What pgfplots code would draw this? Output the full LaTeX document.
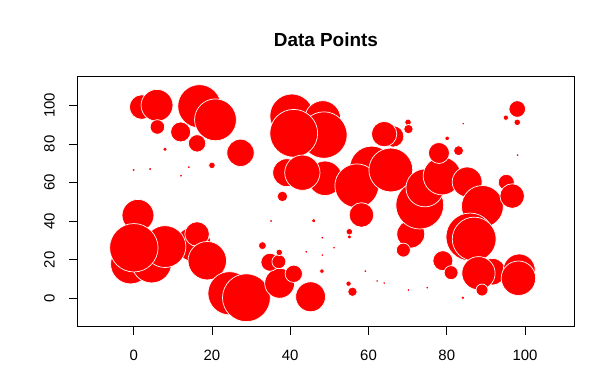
\documentclass[border=0pt]{standalone}
\usepackage{fontspec}
\setmainfont{Liberation Sans}
\usepackage{pgfplots}
\pgfplotsset{compat=1.18}
\usepackage{pgfplotstable}
\pgfplotstableread{
x y r
2.05 99.1 12.3
5.96 100.0 16
6.06 88.8 7.3
16.8 99.5 21.7
20.9 92.5 21
12.0 86.2 10
16.2 80.3 8.7
27.3 75.4 13.7
20.0 68.9 3.3
40.4 94.5 22
48.3 93.1 18
48.6 84.6 23.3
40.9 85.5 24
39.1 65.1 14
48.9 62.2 17.3
43.1 65.1 17.7
38.0 52.8 5.3
60.8 67.5 22
57.0 58.3 22
58.2 43.2 12.3
66.3 83.9 10.7
64.0 85.1 12.7
65.7 66.5 22
70.1 91.2 3.3
70.2 87.7 4.7
70.8 33.3 14
73.1 48.3 24
68.9 25.0 7
74.4 57.2 19
78.8 63.4 19
78.0 75.3 10.5
80.1 82.9 2.3
83.0 76.5 5
85.2 60.3 15
89.1 47.6 21
95.2 60.1 8
96.7 53.0 12.3
95.1 93.6 2.7
98.0 98.1 8.3
98.0 91.2 3.3
85.9 31.8 24
87.0 30.7 22
79.0 19.5 10
81.1 13.3 7
91.7 13.8 13.3
88.1 13.0 16.7
98.5 14.7 16
98.3 10.4 17.3
89.0 4.3 6
-0.8 17.8 20
4.6 18.3 20
1.1 43.0 16
15.3 28.1 17.5
8.0 26.8 21
0.05 26.2 24.3
16.2 33.3 12.3
18.8 19.5 19.3
24.5 2.6 21.7
28.8 0.3 24
37.3 7.8 15
40.9 12.7 8.7
45.2 0.8 15
34.8 18.7 9
37.1 19.0 7
37.2 23.8 3.3
32.9 27.3 4
48.1 14.1 2.3
46.0 40.2 2
55.1 34.5 3.3
55.1 31.8 2
54.9 7.6 2.7
55.9 3.4 4.7
}\bubbles
\pgfplotstableread{
x y r
8.0 77.2 1.4
0 66.5 0.8
4.2 67.0 0.7
14.1 68.0 0.7
12.1 63.5 0.6
84.2 90.5 0.6
98.1 74.2 0.7
84.1 0.3 1.0
75.0 5.5 0.6
70.2 4.3 0.6
35.1 40.1 0.7
48.2 31.4 0.7
51.2 26.2 0.6
44.1 24.1 0.7
48.2 22.4 0.6
59.2 14.1 0.7
62.2 9.0 0.6
64.0 7.9 0.6
}\dots
\begin{document}
\begin{tikzpicture}
\useasboundingbox (0,0) rectangle (597bp,380bp);
\node[font=\fontsize{19}{22}\selectfont\bfseries] at (325.9bp,340bp) {Data Points};
\begin{axis}[
  at={(77.7bp,53.7bp)}, anchor=south west,
  scale only axis, width=496.3bp, height=250.3bp,
  xmin=-14.3, xmax=112.5, ymin=-14.5, ymax=115.2,
  axis line style={line width=0.8pt},
  tick align=outside, major tick length=8.5bp,
  tick style={line width=0.8pt, black},
  xtick={0,20,...,100}, ytick={0,20,...,100},
  xtick pos=bottom, ytick pos=left,
  /pgf/number format/assume math mode=true,
  tick label style={font=\fontsize{15}{18}\selectfont},
  xticklabel style={yshift=-12bp},
  yticklabel style={rotate=90, anchor=south, yshift=11bp},
  clip=false,
]
\addplot[
  only marks, scatter, mark=*,
  scatter/use mapped color={draw=white, fill=red},
  mark options={line width=0.7pt},
  visualization depends on={\thisrow{r} \as \prad},
  scatter/@pre marker code/.append style={/tikz/mark size=\prad},
] table[x=x,y=y] {\bubbles};
\addplot[
  only marks, scatter, mark=*,
  scatter/use mapped color={draw=red, fill=red},
  mark options={line width=0.3pt},
  visualization depends on={\thisrow{r} \as \prad},
  scatter/@pre marker code/.append style={/tikz/mark size=\prad},
] table[x=x,y=y] {\dots};
\end{axis}
\end{tikzpicture}
\end{document}
